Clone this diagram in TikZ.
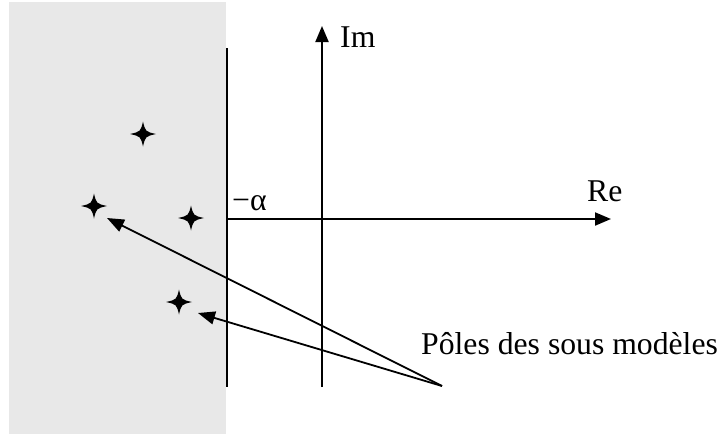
\documentclass[tikz,border=0pt]{standalone}
\usepackage{fontspec}
\setmainfont{Liberation Serif}
\usetikzlibrary{arrows.meta}
\definecolor{paleGray}{HTML}{E8E8E8}
\tikzset{
  axis/.style={line width=2pt,-{Triangle[length=16pt,width=13pt]}},
  plainline/.style={line width=2pt},
  pointer/.style={line width=1.8pt,-{Triangle[length=17pt,width=13pt]}},
  lbl/.style={inner sep=0pt,anchor=base west,font=\fontsize{31.7}{36}\selectfont},
  starshape/.style={fill=black}
}
\newcommand{\polestar}[1]{\fill[starshape,shift={(#1)}] (0,12.5) .. controls (2.4,2.4) .. (13,0) .. controls (2.4,-2.4) .. (0,-12.5) .. controls (-2.4,-2.4) .. (-13,0) .. controls (-2.4,2.4) .. cycle;}
\begin{document}
\begin{tikzpicture}[x=1pt,y=1pt]
\useasboundingbox (0,0) rectangle (723,-437);
\fill[paleGray] (9,-2) rectangle (226,-434);
% stability limit line
\coordinate (vt) at (227,-48);
\coordinate (vb) at (227,-387);
\draw[plainline] (vt) -- (vb);
% axes
\coordinate (imb) at (322,-387);
\coordinate (imt) at (322,-26);
\coordinate (rel) at (227,-219);
\coordinate (rer) at (611,-219);
\draw[axis] (imb) -- (imt);
\draw[axis] (rel) -- (rer);
\node[lbl] (im) at (340,-47) {Im};
\node[lbl] (re) at (587,-201) {Re};
\node[lbl] (alpha) at (232,-210) {−α};
% poles
\coordinate (p1) at (143,-134);
\coordinate (p2) at (94,-206);
\coordinate (p3) at (191,-218);
\coordinate (p4) at (179,-302);
\polestar{p1}
\polestar{p2}
\polestar{p3}
\polestar{p4}
% label and pointers
\node[lbl] (poles) at (421,-354) {Pôles des sous modèles};
\coordinate (src) at (442,-386);
\coordinate (t1) at (107,-218);
\coordinate (t2) at (198,-313);
\draw[pointer] (src) -- (t1);
\draw[pointer] (src) -- (t2);
\end{tikzpicture}
\end{document}
